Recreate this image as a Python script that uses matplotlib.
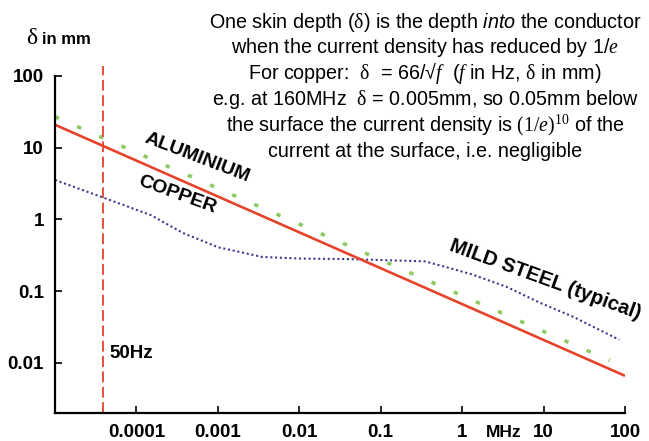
"""Skin depth vs frequency for copper, aluminium and mild steel (log-log)."""
import matplotlib

matplotlib.use("Agg")
import matplotlib.pyplot as plt

plt.rcParams["font.family"] = ["Liberation Sans", "DejaVu Sans"]
plt.rcParams["mathtext.fontset"] = "custom"
plt.rcParams["mathtext.rm"] = "Liberation Serif"
plt.rcParams["mathtext.it"] = "Liberation Serif:italic"
plt.rcParams["mathtext.sf"] = "Liberation Sans:italic"

# frequency in MHz, skin depth in mm
copper_f = [1e-5, 100]
copper_d = [20.9, 0.0066]

alu_f = [1e-5, 65]
alu_d = [27, 0.0108]

steel_f = [1e-5, 4e-5, 1.5e-4, 3.7e-4, 1e-3, 3.5e-3, 1e-2, 4e-2,
           0.12, 0.35, 0.7, 1.35, 3.5, 9, 23, 85]
steel_d = [3.55, 2.0, 1.15, 0.65, 0.41, 0.30, 0.285, 0.28,
           0.27, 0.26, 0.21, 0.17, 0.115, 0.069, 0.044, 0.021]

mains_f = 3.9e-5  # the "50Hz" marker, where it is drawn

xticks = [1e-4, 1e-3, 1e-2, 1e-1, 1, 10, 100]
xtick_labels = ["0.0001", "0.001", "0.01", "0.1", "1", "10", "100"]
yticks = [0.01, 0.1, 1, 10, 100]
ytick_labels = ["0.01", "0.1", "1", "10", "100"]

note_lines = [
    r"One skin depth ($\mathrm{\delta}$) is the depth $\mathsf{into}$ the conductor",
    r"when the current density has reduced by 1/$e$",
    r"For copper:  $\mathrm{\delta}$  = 66/√$f$  ($f$ in Hz, $\mathrm{\delta}$ in mm)",
    r"e.g. at 160MHz  $\mathrm{\delta}$ = 0.005mm, so 0.05mm below",
    r"the surface the current density is $(1/e)^{10}$ of the",
    r"current at the surface, i.e. negligible",
]

W, H = 649, 441
fig = plt.figure(figsize=(W / 100, H / 100), dpi=100)
ax = fig.add_axes([55 / W, 1 - 413 / H, 570 / W, 337 / H])

ax.set_xscale("log")
ax.set_yscale("log")
ax.set_xlim(1e-5, 100)
ax.set_ylim(0.002, 100)

red = "#e5432b"
ax.plot(alu_f, alu_d, color="#8ccb62", lw=2.6, dashes=(1.2, 5.5))
ax.plot(steel_f, steel_d, color="#3c3c8e", lw=1.5, dashes=(1, 1.3))
ax.plot(copper_f, copper_d, color=red, lw=1.9, solid_capstyle="butt")
ax.axvline(mains_f, ymax=1.03, color=red, lw=1.3, dashes=(6, 2.5), clip_on=False)

ax.spines[["top", "right"]].set_visible(False)
for s in ("left", "bottom"):
    ax.spines[s].set_linewidth(1.6)
ax.minorticks_off()
ax.set_xticks(xticks, xtick_labels)
ax.set_yticks(yticks, ytick_labels)
ax.tick_params(direction="in", length=5, width=1.2, labelsize=13.5, pad=8)
for lab in ax.get_xticklabels() + ax.get_yticklabels():
    lab.set_fontweight("bold")

# curve labels
ax.text(5.6e-4, 7.2, "ALUMINIUM", rotation=-21, fontsize=14, fontweight="bold",
        ha="center", va="center", rotation_mode="anchor")
ax.text(3.2e-4, 2.2, "COPPER", rotation=-20, fontsize=14, fontweight="bold",
        ha="center", va="center", rotation_mode="anchor")
ax.text(10.5, 0.145, "MILD STEEL (typical)", rotation=-20, fontsize=14.5,
        fontweight="bold", ha="center", va="center", rotation_mode="anchor")
ax.text(mains_f * 1.2, 0.0133, "50Hz", fontsize=13.5, fontweight="bold",
        ha="left", va="center")
ax.text(3.2, -0.058, "MHz", transform=ax.get_xaxis_transform(), fontsize=12.5,
        fontweight="bold", ha="center", va="center")

# axis title
fig.text(32 / W, 1 - 38 / H, "δ", family="Liberation Serif", fontsize=17,
         ha="center", va="center")
fig.text(42 / W, 1 - 40 / H, "in mm", fontsize=12, fontweight="bold",
         ha="left", va="center")

for i, line in enumerate(note_lines):
    fig.text(425 / W, 1 - (27.5 + 25.9 * i) / H, line, fontsize=14.2,
             ha="center", va="baseline")

fig.savefig("out.png", dpi=100)
